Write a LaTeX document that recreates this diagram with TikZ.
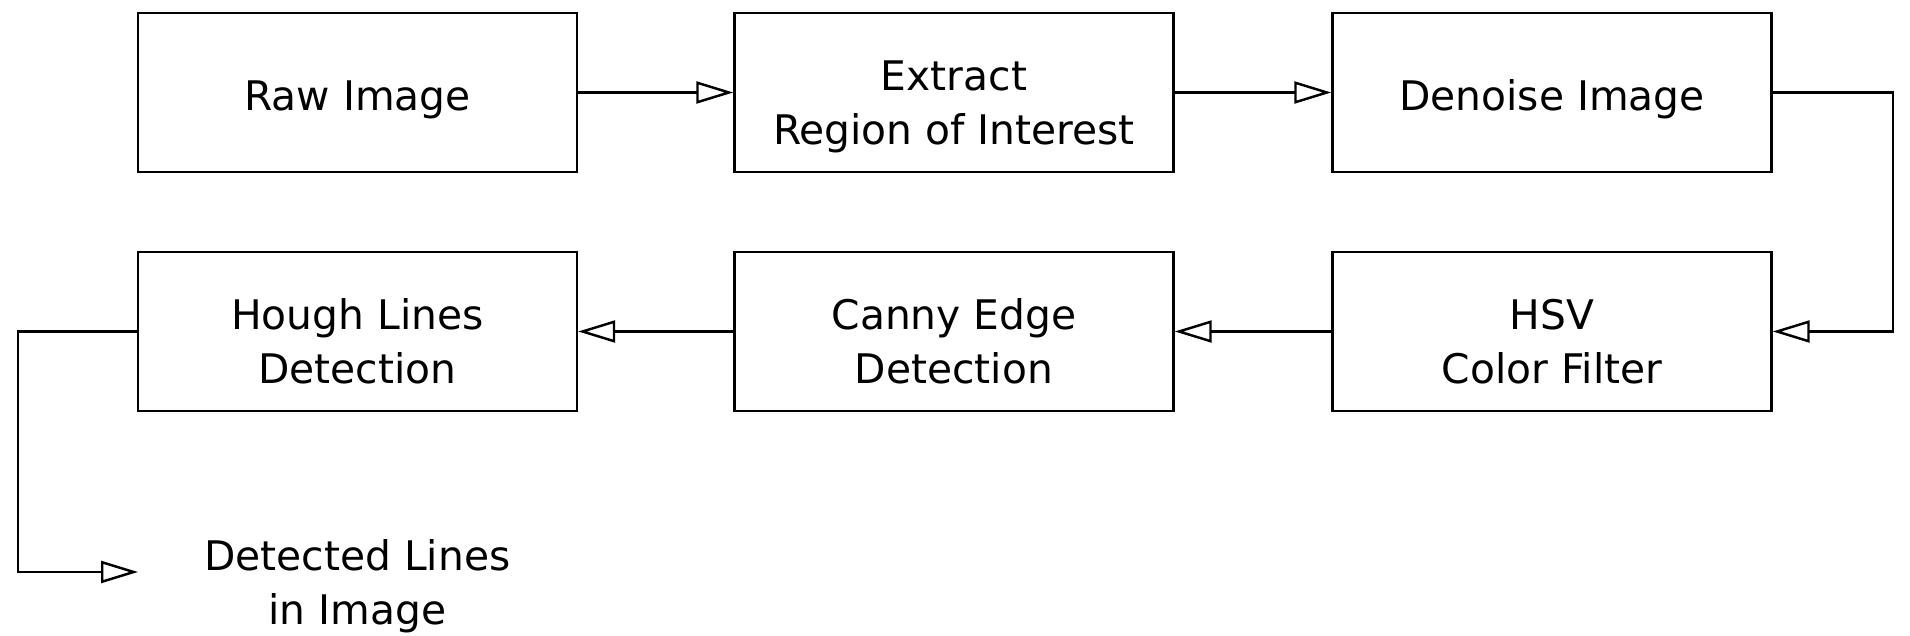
\documentclass[tikz,border=0pt]{standalone}
\usepackage{fontspec}
\setmainfont{DejaVu Sans}
\usetikzlibrary{arrows.meta}
\tikzset{stage/.style={draw, line width=0.7pt, minimum width=4.39cm, minimum height=1.59cm, align=center, inner sep=0pt, font=\fontsize{11.6pt}{15.4pt}\selectfont, text height=10.4pt, text depth=0pt},
    twoline/.style={text height=29.8pt, text depth=0pt}}
\newcommand{\drawarrow}{\draw[line width=0.7pt, -{Triangle[open, length=3.7mm, width=2.2mm]}]}

\begin{document}
\begin{tikzpicture}
    \useasboundingbox (0, 0) rectangle (19.1, -6.36);

    % Draw stages
    \node[stage] (raw) at (3.575, -0.925) {Raw Image};
    \node[stage, twoline] (roi) at (9.54, -0.925) {Extract\\Region of Interest};
    \node[stage] (denoise) at (15.52, -0.925) {Denoise Image};
    \node[stage, twoline] (hsv) at (15.52, -3.315) {HSV\\Color Filter};
    \node[stage, twoline] (canny) at (9.54, -3.315) {Canny Edge\\Detection};
    \node[stage, twoline] (hough) at (3.575, -3.315) {Hough Lines\\Detection};

    % Draw output
    \coordinate (corner) at (0.18, -3.315);
    \coordinate (out) at (1.38, -5.72);
    \node[align=center, font=\fontsize{11.6pt}{15.4pt}\selectfont] (result) at (3.575, -5.86) {Detected Lines\\in Image};

    % Draw arrows
    \drawarrow (raw) -- (roi);
    \drawarrow (roi) -- (denoise);
    \drawarrow (denoise.east) -- ++(1.2, 0) |- (hsv.east);
    \drawarrow (hsv) -- (canny);
    \drawarrow (canny) -- (hough);
    \drawarrow (hough.west) -- (corner) |- (out);
\end{tikzpicture}
\end{document}
